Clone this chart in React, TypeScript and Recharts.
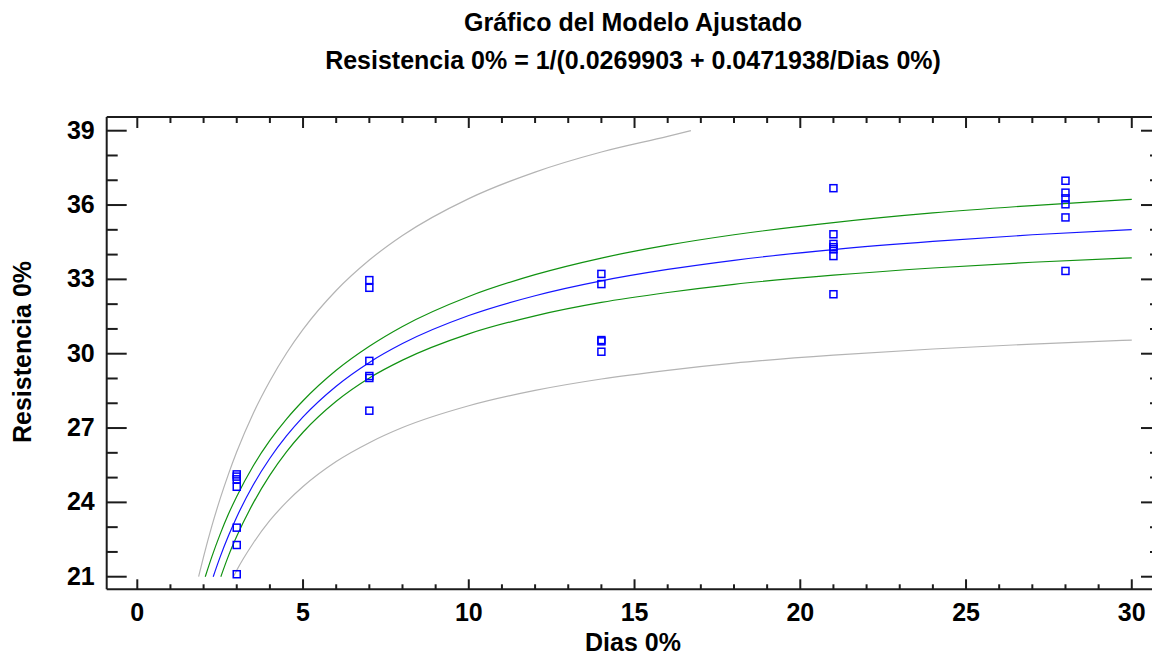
import React from 'react';
import { ComposedChart, Line, Scatter, XAxis, YAxis } from 'recharts';

// ---- data ----
const xTicks = [0, 1, 2, 3, 4, 5, 6, 7, 8, 9, 10, 11, 12, 13, 14, 15, 16, 17, 18, 19, 20, 21, 22, 23, 24, 25, 26, 27, 28, 29, 30];
const xMajor = [0, 5, 10, 15, 20, 25, 30];
const yTicks = [21, 22, 23, 24, 25, 26, 27, 28, 29, 30, 31, 32, 33, 34, 35, 36, 37, 38, 39];
const yMajor = [21, 24, 27, 30, 33, 36, 39];

const obsDias = [3, 3, 3, 3, 3, 3, 3, 7, 7, 7, 7, 7, 7, 14, 14, 14, 14, 14, 21, 21, 21, 21, 21, 21, 21, 28, 28, 28, 28, 28, 28];
const obsRes = [25.13, 25.04, 24.93, 24.63, 22.98, 22.28, 21.1, 32.97, 32.66, 29.71, 29.1, 29.02, 27.7, 33.22, 32.81, 30.55, 30.5, 30.08, 36.68, 34.82, 34.43, 34.3, 34.22, 33.94, 32.4, 36.98, 36.5, 36.27, 36.03, 35.5, 33.34];

const fitX = [2.29, 2.5, 2.75, 3, 3.5, 4, 4.5, 5, 6, 7, 8, 10, 12, 14, 16, 18, 21, 24, 27, 30];
const fitY = [21.0, 21.8, 22.65, 23.41, 24.71, 25.78, 26.68, 27.45, 28.69, 29.65, 30.41, 31.54, 32.34, 32.94, 33.4, 33.77, 34.2, 34.53, 34.8, 35.01];

const ciUpX = [2.05, 2.25, 2.5, 2.75, 3, 3.5, 4, 4.5, 5, 6, 7, 8, 10, 12, 14, 16, 18, 21, 24, 27, 30];
const ciUpY = [21.0, 21.81, 22.72, 23.53, 24.24, 25.48, 26.5, 27.36, 28.1, 29.33, 30.3, 31.1, 32.31, 33.19, 33.86, 34.38, 34.8, 35.29, 35.68, 35.98, 36.23];

const ciLoX = [2.52, 2.75, 3, 3.5, 4, 4.5, 5, 6, 7, 8, 10, 12, 14, 16, 18, 21, 24, 27, 30];
const ciLoY = [21.0, 21.84, 22.63, 23.98, 25.1, 26.04, 26.83, 28.08, 29.02, 29.74, 30.8, 31.53, 32.07, 32.47, 32.8, 33.17, 33.46, 33.69, 33.87];

const piUpX = [1.85, 2, 2.25, 2.5, 2.75, 3, 3.5, 4, 4.5, 5, 6, 7, 8, 10, 12, 14, 16, 16.7];
const piUpY = [21.0, 21.81, 23.05, 24.15, 25.14, 26.04, 27.6, 28.9, 30.02, 30.98, 32.55, 33.78, 34.77, 36.26, 37.33, 38.14, 38.77, 39.0];

const piLoX = [2.9, 3, 3.5, 4, 4.5, 5, 6, 7, 8, 10, 12, 14, 16, 18, 21, 24, 27, 30];
const piLoY = [21.0, 21.26, 22.36, 23.27, 24.01, 24.64, 25.65, 26.41, 27.02, 27.9, 28.52, 28.98, 29.33, 29.62, 29.94, 30.19, 30.39, 30.55];

const titleLine1 = 'Gráfico del Modelo Ajustado';
const titleLine2 = 'Resistencia 0% = 1/(0.0269903 + 0.0471938/Dias 0%)';
const xLabel = 'Dias 0%';
const yLabel = 'Resistencia 0%';

// ---- build series ----
const zip = (xs: number[], ys: number[]) => xs.map((x, i) => ({ x, y: ys[i] }));
const obsData = zip(obsDias, obsRes);
const fitData = zip(fitX, fitY);
const ciUpData = zip(ciUpX, ciUpY);
const ciLoData = zip(ciLoX, ciLoY);
const piUpData = zip(piUpX, piUpY);
const piLoData = zip(piLoX, piLoY);

const W = 1152;
const H = 656;
const RIGHT_W = 20;
const FONT = "'Liberation Sans', Arial, sans-serif";
const AX = '#1c1c1c';

const BottomTick = (p: any) => {
  const v = p.payload.value;
  const major = xMajor.includes(v);
  return (
    <g>
      <line x1={p.x} x2={p.x} y1={p.y} y2={p.y - (major ? 10 : 5)} stroke={AX} strokeWidth={2} />
      {major && (
        <text x={p.x} y={p.y + 32} textAnchor="middle" fontFamily={FONT} fontWeight="bold" fontSize={25} fill="#000">
          {v}
        </text>
      )}
    </g>
  );
};

const TopTick = (p: any) => {
  const v = p.payload.value;
  const major = xMajor.includes(v);
  return <line x1={p.x} x2={p.x} y1={p.y} y2={p.y + (major ? 11 : 6)} stroke={AX} strokeWidth={2} />;
};

const LeftTick = (p: any) => {
  const v = p.payload.value;
  const major = yMajor.includes(v);
  return (
    <g>
      <line x1={p.x} x2={p.x + (major ? 20 : 11)} y1={p.y} y2={p.y} stroke={AX} strokeWidth={2} />
      {major && (
        <text x={p.x - 12} y={p.y + 8} textAnchor="end" fontFamily={FONT} fontWeight="bold" fontSize={25} fill="#000">
          {v}
        </text>
      )}
    </g>
  );
};

const RightTick = (p: any) => {
  const v = p.payload.value;
  const major = yMajor.includes(v);
  return <line x1={p.x} x2={p.x - (major ? 11 : 2)} y1={p.y} y2={p.y} stroke={AX} strokeWidth={2} />;
};

const SquareMark = (p: any) => (
  <rect x={p.cx - 3.5} y={p.cy - 3.5} width={7} height={7} fill="none" stroke="#0000ff" strokeWidth={1.5} />
);

export default function App() {
  return (
    <div style={{ position: 'absolute', left: 0, top: 0, width: W, height: H, background: '#fff', overflow: 'hidden' }}>
      <ComposedChart width={W + RIGHT_W} height={H} margin={{ top: 97, right: 0, bottom: 26.7, left: 46.7 }}>
        <XAxis
          xAxisId={0}
          dataKey="x"
          type="number"
          domain={[-0.923, 30.61]}
          allowDataOverflow
          ticks={xTicks}
          interval={0}
          height={40}
          tickSize={0}
          tickMargin={0}
          tickLine={false}
          axisLine={{ stroke: AX, strokeWidth: 2 }}
          tick={(p: any) => <BottomTick {...p} />}
        />
        <XAxis
          xAxisId="top"
          orientation="top"
          dataKey="x"
          type="number"
          domain={[-0.923, 30.61]}
          allowDataOverflow
          ticks={xTicks}
          interval={0}
          height={20}
          tickSize={0}
          tickMargin={0}
          tickLine={false}
          axisLine={{ stroke: AX, strokeWidth: 2 }}
          tick={(p: any) => <TopTick {...p} />}
        />
        <YAxis
          yAxisId={0}
          dataKey="y"
          type="number"
          domain={[20.492, 39.553]}
          allowDataOverflow
          ticks={yTicks}
          interval={0}
          width={60}
          tickSize={0}
          tickMargin={0}
          tickLine={false}
          axisLine={{ stroke: AX, strokeWidth: 2 }}
          tick={(p: any) => <LeftTick {...p} />}
        />
        <YAxis
          yAxisId="right"
          orientation="right"
          dataKey="y"
          type="number"
          domain={[20.492, 39.553]}
          allowDataOverflow
          ticks={yTicks}
          interval={0}
          width={RIGHT_W}
          tickSize={0}
          tickMargin={0}
          tickLine={false}
          axisLine={false}
          tick={(p: any) => <RightTick {...p} />}
        />
        <Line data={piUpData} dataKey="y" type="monotone" stroke="#b4b4b4" strokeWidth={1.2} dot={false} activeDot={false} isAnimationActive={false} />
        <Line data={piLoData} dataKey="y" type="monotone" stroke="#b4b4b4" strokeWidth={1.2} dot={false} activeDot={false} isAnimationActive={false} />
        <Line data={ciUpData} dataKey="y" type="monotone" stroke="#119211" strokeWidth={1.2} dot={false} activeDot={false} isAnimationActive={false} />
        <Line data={ciLoData} dataKey="y" type="monotone" stroke="#119211" strokeWidth={1.2} dot={false} activeDot={false} isAnimationActive={false} />
        <Line data={fitData} dataKey="y" type="monotone" stroke="#1515ff" strokeWidth={1.2} dot={false} activeDot={false} isAnimationActive={false} />
        <Scatter data={obsData} dataKey="y" shape={(p: any) => <SquareMark {...p} />} isAnimationActive={false} />
      </ComposedChart>
      <svg width={W} height={H} style={{ position: 'absolute', left: 0, top: 0, pointerEvents: 'none' }}>
        <text x={633} y={31} textAnchor="middle" fontFamily={FONT} fontWeight="bold" fontSize={25} fill="#000">{titleLine1}</text>
        <text x={633} y={69} textAnchor="middle" fontFamily={FONT} fontWeight="bold" fontSize={25} fill="#000">{titleLine2}</text>
        <text x={633} y={651} textAnchor="middle" fontFamily={FONT} fontWeight="bold" fontSize={25} fill="#000">{xLabel}</text>
        <text transform="translate(31,352) rotate(-90)" textAnchor="middle" fontFamily={FONT} fontWeight="bold" fontSize={25} fill="#000">{yLabel}</text>
      </svg>
    </div>
  );
}
